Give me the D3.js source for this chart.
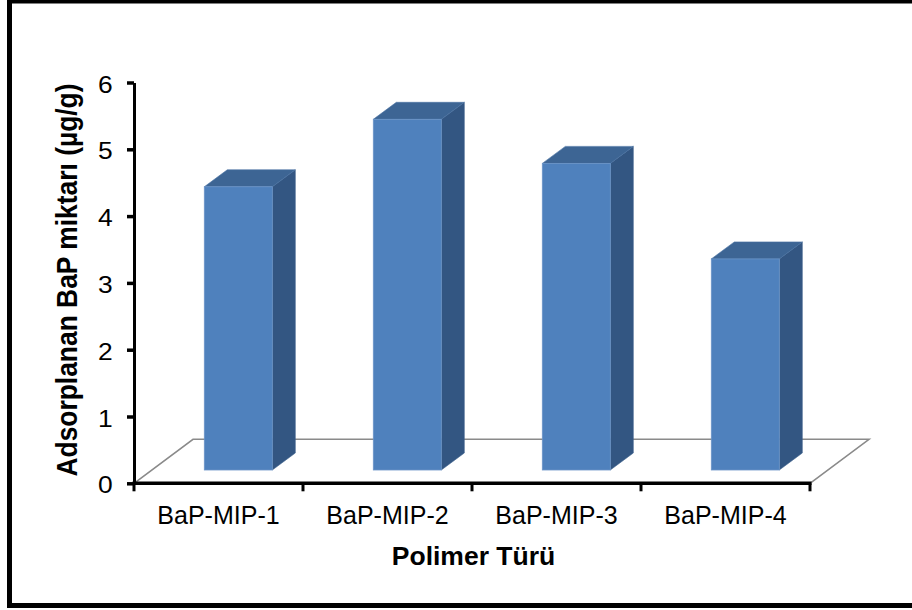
<!DOCTYPE html>
<html>
<head>
<meta charset="utf-8">
<script src="https://cdn.jsdelivr.net/npm/d3@7"></script>
<style>
  html, body { margin: 0; padding: 0; background: #fff; }
  svg { display: block; }
  text { font-family: "Liberation Sans", Arial, sans-serif; fill: #000; }
</style>
</head>
<body>
<svg id="chart" width="912" height="610"></svg>
<script>
// ---- data ----
const categories = ["BaP-MIP-1", "BaP-MIP-2", "BaP-MIP-3", "BaP-MIP-4"];
const values = [4.24, 5.25, 4.59, 3.16];
const yTicks = [0, 1, 2, 3, 4, 5, 6];
const yTitle = "Adsorplanan BaP miktarı (µg/g)";
const xTitle = "Polimer Türü";

// ---- layout ----
const svg = d3.select("#chart");
const x0 = 134, x1 = 810, yBottom = 483.3, yTop = 82.5;
const depth = { dx: 59, dy: -44 };       // full floor depth
const frontOff = { dx: 17.8, dy: -13.3 }; // bar front face depth
const barDepth = { dx: 23, dy: -17 };    // bar depth
const barW = 68;

const x = d3.scaleBand().domain(categories).range([x0, x1]);
const y = d3.scaleLinear().domain([0, 6]).range([yBottom, yTop]);
const bw = x.bandwidth();

// outer frame
svg.append("rect")
  .attr("x", 9.5).attr("y", 1).attr("width", 1000).attr("height", 604.5)
  .attr("fill", "#fff").attr("stroke", "#000").attr("stroke-width", 5);

// floor
const fl = [
  [x0, y(0)], [x0 + depth.dx, y(0) + depth.dy],
  [x1 + depth.dx, y(0) + depth.dy], [x1, y(0)]
];
svg.append("path")
  .attr("d", d3.line()(fl))
  .attr("fill", "none").attr("stroke", "#8a8a8a").attr("stroke-width", 1.6);

// bars
const g = svg.append("g");
categories.forEach((c, i) => {
  const L = x(c) + (bw - barW) / 2 + 2 + frontOff.dx;
  const T = y(values[i]) + frontOff.dy;
  const B = y(0) + frontOff.dy;
  const R = L + barW;
  const ddx = barDepth.dx, ddy = barDepth.dy;
  g.append("path")
    .attr("d", d3.line()([[R, T], [R + ddx, T + ddy], [R + ddx, B + ddy], [R, B]]) + "Z")
    .attr("fill", "#335682").attr("stroke", "#3b5f8c").attr("stroke-width", 0.6);
  g.append("path")
    .attr("d", d3.line()([[L, T], [R, T], [R + ddx, T + ddy], [L + ddx, T + ddy]]) + "Z")
    .attr("fill", "#3d6594").attr("stroke", "#4a72a3").attr("stroke-width", 0.6);
  g.append("rect")
    .attr("x", L).attr("y", T).attr("width", barW).attr("height", B - T)
    .attr("fill", "#4f81bd").attr("stroke", "#6b95c8").attr("stroke-width", 0.8);
});

// y axis
const yAxis = svg.append("g")
  .attr("transform", `translate(${x0},0)`)
  .call(d3.axisLeft(y).tickValues(yTicks).tickSize(7).tickSizeOuter(0).tickFormat(d3.format("d")));
yAxis.attr("font-size", null).attr("font-family", null);
yAxis.select(".domain").attr("stroke", "#000").attr("stroke-width", 3);
yAxis.selectAll(".tick line").attr("stroke", "#000").attr("stroke-width", 3.5);
yAxis.selectAll(".tick text")
  .attr("x", -19.5).attr("dy", "9.5px")
  .attr("transform", "scale(1.1,1)")
  .style("font-size", "24px")
  .attr("fill", "#000");

// x axis line and boundary ticks
const xa = svg.append("g");
xa.append("line")
  .attr("x1", x0 - 1.5).attr("x2", x1 + 1.5).attr("y1", y(0)).attr("y2", y(0))
  .attr("stroke", "#000").attr("stroke-width", 3.5);
const bounds = categories.map(c => x(c)).concat([x(categories[categories.length - 1]) + bw]);
xa.selectAll("line.b").data(bounds).enter().append("line")
  .attr("class", "b")
  .attr("x1", d => d).attr("x2", d => d)
  .attr("y1", y(0)).attr("y2", y(0) + 8)
  .attr("stroke", "#000").attr("stroke-width", 3);
xa.selectAll("text.lbl").data(categories).enter().append("text")
  .attr("class", "lbl")
  .attr("x", d => x(d) + bw / 2).attr("y", 523.5)
  .attr("text-anchor", "middle")
  .style("font-size", "25px")
  .text(d => d);

// axis titles
svg.append("text")
  .attr("transform", "translate(77,280) rotate(-90) scale(1,1.15)")
  .attr("text-anchor", "middle")
  .attr("textLength", 393).attr("lengthAdjust", "spacingAndGlyphs")
  .style("font-size", "26px").style("font-weight", "bold")
  .text(yTitle);

svg.append("text")
  .attr("x", 473.5).attr("y", 565)
  .attr("text-anchor", "middle")
  .style("font-size", "26.5px").style("font-weight", "bold")
  .text(xTitle);
</script>
</body>
</html>
